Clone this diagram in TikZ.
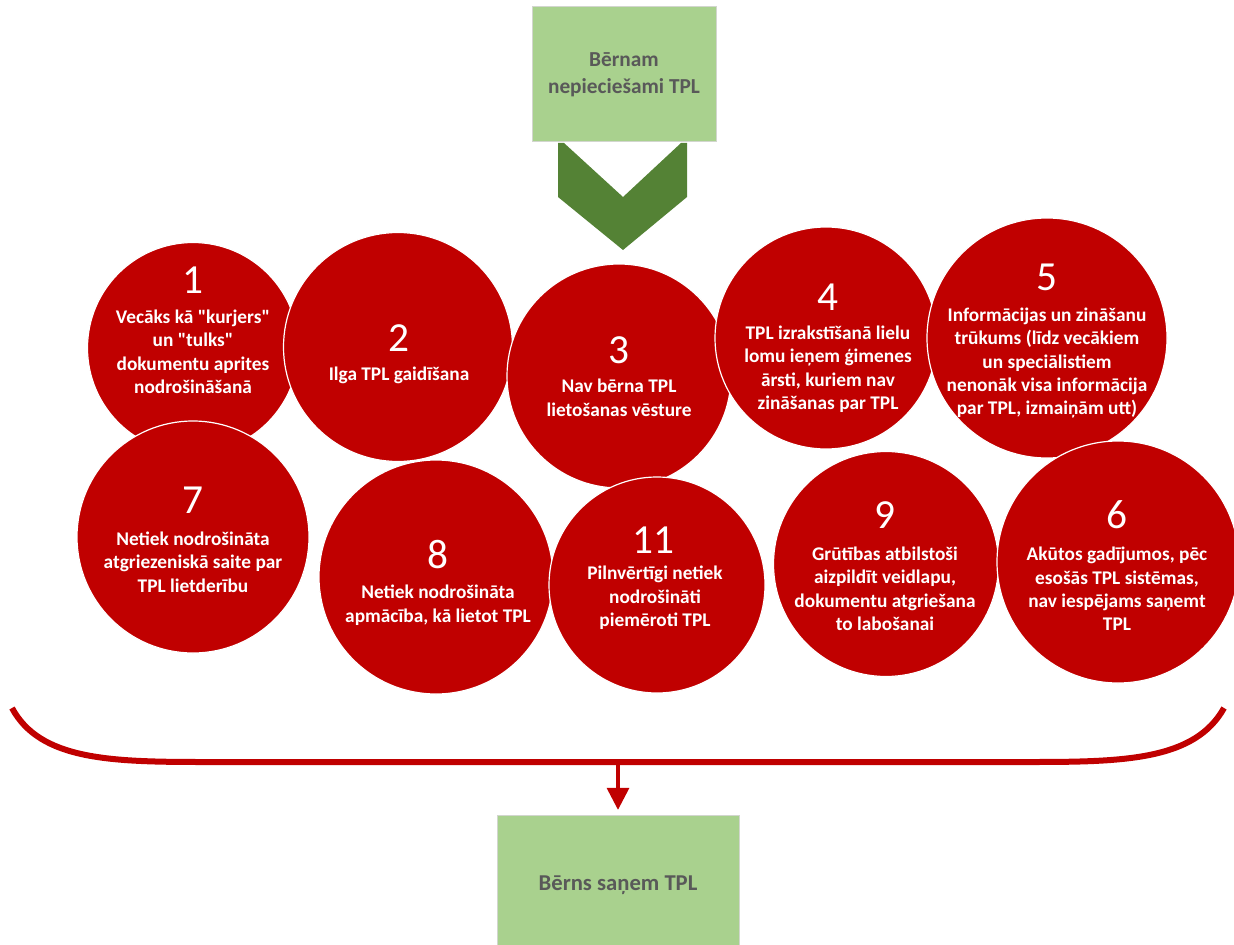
\documentclass[tikz,border=0pt]{standalone}
\usepackage{fontspec}
\setmainfont{Carlito}
\usetikzlibrary{arrows.meta}

\definecolor{tplred}{RGB}{192,0,0}
\definecolor{tplgreen}{RGB}{169,209,142}
\definecolor{tpldkgreen}{RGB}{84,130,53}
\definecolor{tplgray}{RGB}{89,89,89}
\definecolor{tpledge}{RGB}{210,214,206}

\tikzset{every picture/.style={line width=0.75pt}}
\tikzset{
  problem/.style={circle, fill=tplred, draw=white, line width=0.9pt, inner sep=0pt},
  probnum/.style={text=white, font=\fontsize{31}{31}\selectfont, inner sep=0pt},
  probtext/.style={text=white, font=\bfseries\fontsize{14.5}{17.6}\selectfont, align=center, inner sep=0pt},
  greenbox/.style={rectangle, fill=tplgreen, draw=tpledge, line width=0.75pt, text=tplgray, align=center},
}

\begin{document}
\begin{tikzpicture}[x=0.75pt,y=0.75pt,yscale=-1,xscale=1]
	\useasboundingbox (0,0) rectangle (1234,945);
	\clip (0,0) rectangle (1234,945);

	%Shape: Rectangle [top]
	\node [greenbox, minimum width=138pt, minimum height=101.25pt, font=\bfseries\fontsize{16}{20}\selectfont] (need) at (624,74.5) {Bērnam\\nepieciešami TPL};
	%Shape: Chevron
	\fill [tpldkgreen] (558,143) -- (564,143) -- (623,197) -- (681,143) -- (687,143) -- (687,197) -- (623,250) -- (558,197) -- cycle ;

	%Shape: Circles, upper row
	\node [problem, minimum size=158.25pt] (p1) at (193,348) {};
	\node [problem, minimum size=171.75pt] (p2) at (398,347) {};
	\node [problem, minimum size=168pt] (p3) at (619,376) {};
	\node [problem, minimum size=166.5pt] (p4) at (826,338) {};
	\node [problem, minimum size=180pt] (p5) at (1047,338) {};
	%Shape: Circles, lower row
	\node [problem, minimum size=174pt] (p7) at (193,537) {};
	\node [problem, minimum size=175.5pt] (p8) at (436,577) {};
	\node [problem, minimum size=162pt] (p11) at (657,585) {};
	\node [problem, minimum size=168.75pt] (p9) at (886,564) {};
	\node [problem, minimum size=181.5pt] (p6) at (1118,562) {};

	% Text Node
	\node [probnum] (n1) at (193,280) {1};
	\node [probtext] (d1) at (193,352) {Vecāks kā \textquotedbl kurjers\textquotedbl\\un \textquotedbl tulks\textquotedbl\\dokumentu aprites\\nodrošināšanā};
	% Text Node
	\node [probnum] (n2) at (399,338) {2};
	\node [probtext] (d2) at (399,375) {Ilga TPL gaidīšana};
	% Text Node
	\node [probnum] (n3) at (619,350) {3};
	\node [probtext] (d3) at (619,398) {Nav bērna TPL\\lietošanas vēsture};
	% Text Node
	\node [probnum] (n4) at (828,297) {4};
	\node [probtext] (d4) at (828,369) {TPL izrakstīšanā lielu\\lomu ieņem ģimenes\\ārsti, kuriem nav\\zināšanas par TPL};
	% Text Node
	\node [probnum] (n5) at (1047,277) {5};
	\node [probtext] (d5) at (1047,363) {Informācijas un zināšanu\\trūkums (līdz vecākiem\\un speciālistiem\\nenonāk visa informācija\\par TPL, izmaiņām utt)};
	% Text Node
	\node [probnum] (n7) at (193,500) {7};
	\node [probtext] (d7) at (193,562) {Netiek nodrošināta\\atgriezeniskā saite par\\TPL lietderību};
	% Text Node
	\node [probnum] (n8) at (438,555) {8};
	\node [probtext] (d8) at (438,605) {Netiek nodrošināta\\apmācība, kā lietot TPL};
	% Text Node
	\node [probnum] (n11) at (653,540) {11};
	\node [probtext] (d11) at (655,598) {Pilnvērtīgi netiek\\nodrošināti\\piemēroti TPL};
	% Text Node
	\node [probnum] (n9) at (885,515) {9};
	\node [probtext] (d9) at (885,589) {Grūtības atbilstoši\\aizpildīt veidlapu,\\dokumentu atgriešana\\to labošanai};
	% Text Node
	\node [probnum] (n6) at (1117,515) {6};
	\node [probtext] (d6) at (1117,589) {Akūtos gadījumos, pēc\\esošās TPL sistēmas,\\nav iespējams saņemt\\TPL};

	%Shape: Rectangle [bottom]
	\node [greenbox, minimum width=181.5pt, minimum height=105pt, font=\bfseries\fontsize{17}{20}\selectfont] (gets) at (618,885) {Bērns saņem TPL};

	%Curve Lines [brace]
	\draw [tplred, line width=4.5pt] (12,708) .. controls (40,760) and (110,762) .. (205,762) -- (1030,762) .. controls (1125,762) and (1195,760) .. (1224,708) ;
	\coordinate (brk) at (618,762);
	%Straight Lines [arrow]
	\draw [tplred, line width=2.5pt, -{Triangle[length=16.5pt, width=16.5pt]}, shorten >=3.5pt] (brk) -- (gets.north) ;

\end{tikzpicture}
\end{document}
